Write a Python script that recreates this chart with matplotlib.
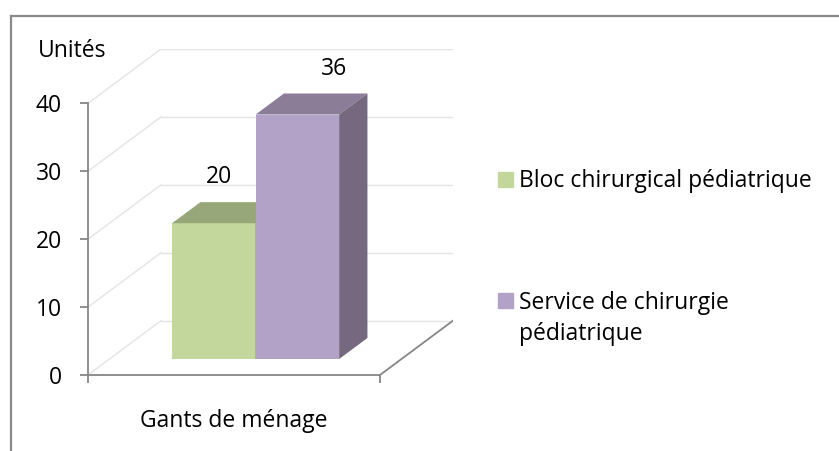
import matplotlib.pyplot as plt
from matplotlib.patches import Rectangle
from matplotlib.lines import Line2D

categories = ["Gants de ménage"]
series = ["Bloc chirurgical pédiatrique", "Service de chirurgie\npédiatrique"]
values = [20, 36]
yticks = [0, 10, 20, 30, 40]

front_colors = ["#c3d69b", "#b3a2c7"]
top_colors = ["#98a77a", "#8b7c98"]
side_colors = ["#7f8c66", "#76687f"]

plt.rcParams["font.family"] = ["Open Sans", "DejaVu Sans"]
FS = 16.5
W, H = 839, 451

fig = plt.figure(figsize=(W / 100, H / 100), dpi=100)
ax = fig.add_axes([88 / W, (H - 375) / H, 365 / W, 326 / H])
ax.set_xlim(0, 1.25)
ax.set_ylim(0, 48)

# depth of the 3d box, in data units
DX, DY = 0.25, 8.0
grid_c = "#e4e4e4"
axis_c = "#868686"

# side wall + back wall gridlines
for v in yticks:
    ax.plot([0, DX], [v, v + DY], color=grid_c, lw=1, zorder=1)
    ax.plot([DX, 1 + DX], [v + DY, v + DY], color=grid_c, lw=1, zorder=1)
ax.plot([1, 1 + DX], [0, DY], color=axis_c, lw=1.3, zorder=2)

# bars (front face + top + side)
base = 2.35
bar_w = 0.286
start = 0.288
tdx, tdy = 0.097, 3.1
label_dx = [0.016, 0.127]
for i, v in enumerate(values):
    x = start + i * bar_w
    ax.bar(x, v, width=bar_w, bottom=base, align="edge",
           color=front_colors[i], lw=0, zorder=3)
    top = base + v
    ax.fill([x, x + bar_w, x + bar_w + tdx, x + tdx],
            [top, top, top + tdy, top + tdy], color=top_colors[i], lw=0, zorder=3)
    ax.fill([x + bar_w, x + bar_w + tdx, x + bar_w + tdx, x + bar_w],
            [base, base + tdy, top + tdy, top], color=side_colors[i], lw=0, zorder=3)
    ax.text(x + bar_w / 2 + label_dx[i], top + 5.85, str(v), ha="center",
            va="baseline", fontsize=FS, zorder=4)

# axes
for s in ["top", "right"]:
    ax.spines[s].set_visible(False)
ax.spines["left"].set_bounds(0, 40)
ax.spines["bottom"].set_bounds(0, 1)
for s in ["left", "bottom"]:
    ax.spines[s].set_color(axis_c)
    ax.spines[s].set_linewidth(1.3)
ax.set_yticks(yticks)
ax.tick_params(axis="y", length=5.8, width=1.3, color=axis_c, labelsize=FS, pad=13)
ax.set_xticks([0, 1], ["", ""])
ax.tick_params(axis="x", length=5.5, width=1.3, color=axis_c)
ax.text(0.5, -7.66, categories[0], ha="center", va="baseline", fontsize=FS)

fig.text(38 / W, (H - 57) / H, "Unités", ha="left", va="baseline", fontsize=FS)

# legend (baseline of the last line is placed, so shift by the line pitch)
leg_y = [187, 308]
pitch = 31.5
for i, lab in enumerate(series):
    nl = lab.count("\n")
    fig.add_artist(Rectangle((498 / W, (H - leg_y[i]) / H), 15 / W, 15 / H,
                             color=front_colors[i], transform=fig.transFigure))
    fig.text(519 / W, (H - leg_y[i] - nl * pitch) / H, lab, ha="left", va="baseline",
             fontsize=FS, linespacing=1.35)

# outer frame
fig.add_artist(Line2D([11 / W, 1], [(H - 16) / H] * 2, color="#8a8a8a", lw=1.6))
fig.add_artist(Line2D([11 / W, 11 / W], [0, (H - 16) / H], color="#8a8a8a", lw=1.6))

fig.savefig("out.png", dpi=100)
